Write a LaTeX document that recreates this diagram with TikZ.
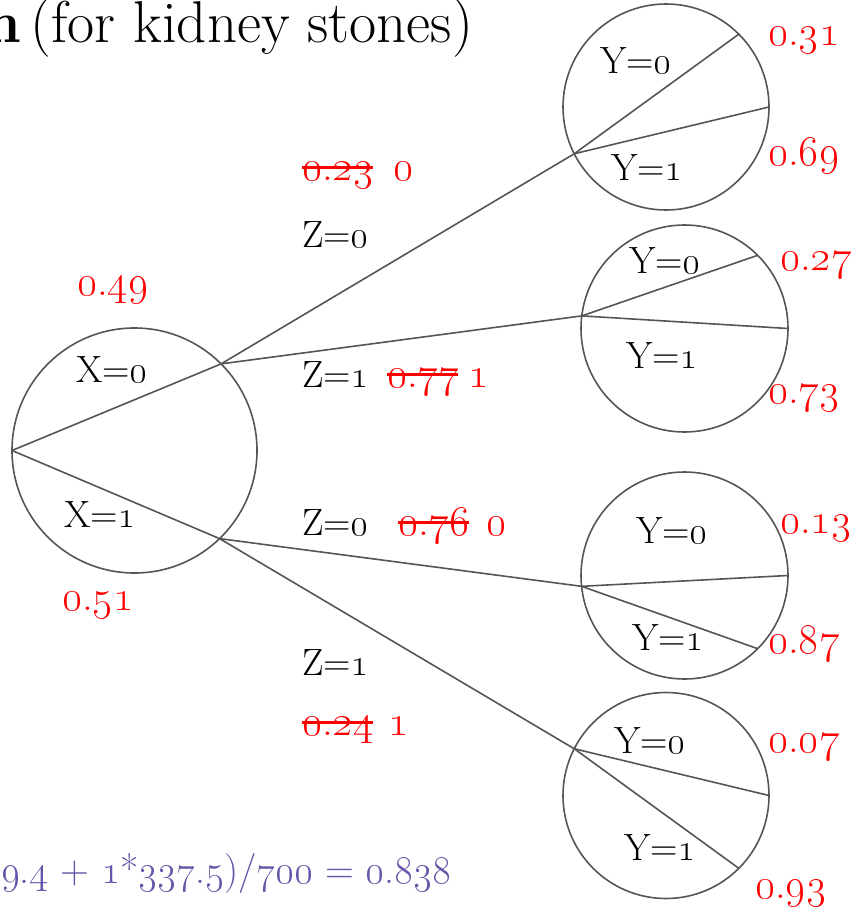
\RequirePackage{fix-cm}
\documentclass[tikz,border=0pt]{standalone}
\definecolor{gline}{RGB}{85,85,85}
\definecolor{purp}{RGB}{103,84,168}
\newcommand\osn[1]{\oldstylenums{#1}}
\newcommand\strk[1]{\setbox0=\hbox{#1}\rlap{\rule[0.25em]{\wd0}{0.075em}}\box0}
\tikzset{
 circ/.style={circle, draw=gline, line width=1.6pt, inner sep=0pt, outer sep=0pt},
 conn/.style={draw=gline, line width=1.6pt},
 lbl/.style={inner sep=0pt, outer sep=0pt, font=\fontsize{38}{44}\selectfont, text=black},
 num/.style={inner sep=0pt, outer sep=0pt, font=\fontsize{43}{48}\selectfont, text=red},
 ttl/.style={inner sep=0pt, outer sep=0pt, font=\fontsize{59}{66}\selectfont},
}
\begin{document}
\begin{tikzpicture}[x=1pt,y=-1pt]
\clip (0,0) rectangle (853,908);
% circles
\node[circ, minimum size=245pt] (x) at (134.5,450.5) {};
\node[circ, minimum size=206pt] (y1) at (666,107) {};
\node[circ, minimum size=207pt] (y2) at (684.5,328.5) {};
\node[circ, minimum size=207pt] (y3) at (684.5,575.5) {};
\node[circ, minimum size=206pt] (y4) at (666,795.5) {};
% connectors
\draw[conn] (x.180) -- (x.45);
\draw[conn] (x.180) -- (x.-46);
\draw[conn] (x.45) -- (y1.207);
\draw[conn] (x.45) -- (y2.173);
\draw[conn] (x.-46) -- (y3.186);
\draw[conn] (x.-46) -- (y4.153);
\draw[conn] (y1.207) -- (y1.45);
\draw[conn] (y1.207) -- (y1.0);
\draw[conn] (y2.173) -- (y2.45);
\draw[conn] (y2.173) -- (y2.0);
\draw[conn] (y3.186) -- (y3.0);
\draw[conn] (y3.186) -- (y3.-45);
\draw[conn] (y4.153) -- (y4.0);
\draw[conn] (y4.153) -- (y4.-45);
% title and formula
\node[ttl, anchor=base east] (title) at (473,42) {(for kidney stones)};
\node[ttl, anchor=base east] (titlen) at (21,42) {\textbf{n}};
\node[anchor=base west, inner sep=0pt, font=\fontsize{40}{46}\selectfont, text=purp] (formula) at (1,883) {\osn{9}.\osn{4} + \osn{1}*\osn{337}.\osn{5})/\osn{700} = \osn{0}.\osn{838}};
% X labels
\node[lbl, anchor=base] (x0) at (112,382) {X=\osn{0}};
\node[lbl, anchor=base] (x1) at (100,527) {X=\osn{1}};
\node[num, anchor=base west] (px0) at (77,295) {\osn{0}.\osn{49}};
\node[num, anchor=base west] (px1) at (62,610) {\osn{0}.\osn{51}};
% Z labels
\node[lbl, anchor=base west] (z0a) at (302,247) {Z=\osn{0}};
\node[lbl, anchor=base west] (z1a) at (302,387) {Z=\osn{1}};
\node[lbl, anchor=base west] (z0b) at (302,535) {Z=\osn{0}};
\node[lbl, anchor=base west] (z1b) at (302,675) {Z=\osn{1}};
\node[num, anchor=base west] (s1) at (302,180) {\strk{\osn{0}.\osn{23}}};
\node[num, anchor=base west] (r1) at (393,180) {\osn{0}};
\node[num, anchor=base west] (s2) at (387,387) {\strk{\osn{0}.\osn{77}}};
\node[num, anchor=base west] (r2) at (468,387) {\osn{1}};
\node[num, anchor=base west] (s3) at (398,535) {\strk{\osn{0}.\osn{76}}};
\node[num, anchor=base west] (r3) at (486,535) {\osn{0}};
\node[num, anchor=base west] (s4) at (302,735) {\strk{\osn{0}.\osn{24}}};
\node[num, anchor=base west] (r4) at (388,735) {\osn{1}};
% Y labels
\node[lbl, anchor=base] (y1a) at (636,73) {Y=\osn{0}};
\node[lbl, anchor=base] (y1b) at (647,180) {Y=\osn{1}};
\node[lbl, anchor=base] (y2a) at (665,273) {Y=\osn{0}};
\node[lbl, anchor=base] (y2b) at (662,368) {Y=\osn{1}};
\node[lbl, anchor=base] (y3a) at (672,543) {Y=\osn{0}};
\node[lbl, anchor=base] (y3b) at (668,650) {Y=\osn{1}};
\node[lbl, anchor=base] (y4a) at (650,753) {Y=\osn{0}};
\node[lbl, anchor=base] (y4b) at (660,860) {Y=\osn{1}};
\node[num, anchor=base west] (p10) at (768,45) {\osn{0}.\osn{31}};
\node[num, anchor=base west] (p11) at (768,165) {\osn{0}.\osn{69}};
\node[num, anchor=base west] (p20) at (780,270) {\osn{0}.\osn{27}};
\node[num, anchor=base west] (p21) at (768,403) {\osn{0}.\osn{73}};
\node[num, anchor=base west] (p30) at (780,533) {\osn{0}.\osn{13}};
\node[num, anchor=base west] (p31) at (768,653) {\osn{0}.\osn{87}};
\node[num, anchor=base west] (p40) at (768,752) {\osn{0}.\osn{07}};
\node[num, anchor=base west] (p41) at (755,898) {\osn{0}.\osn{93}};
\end{tikzpicture}
\end{document}
